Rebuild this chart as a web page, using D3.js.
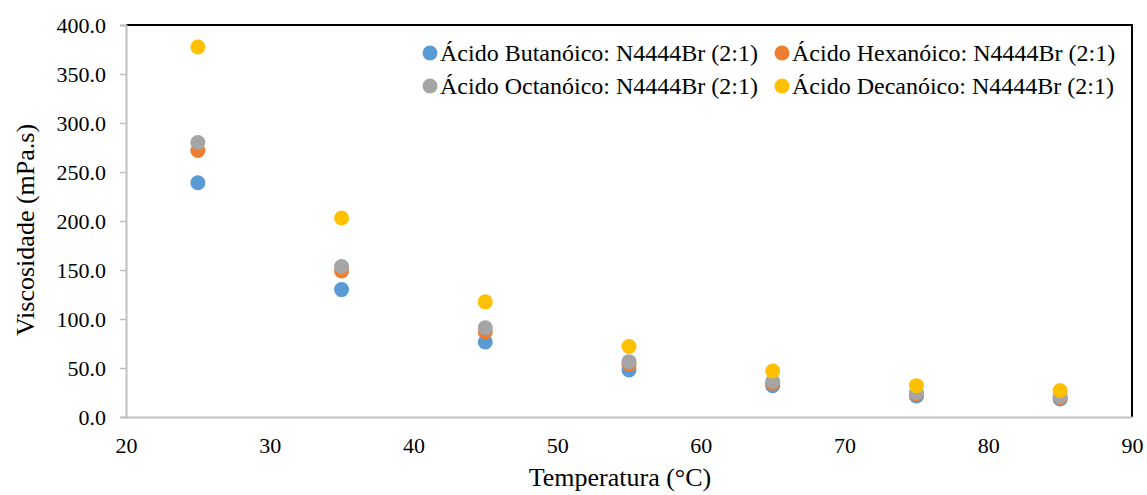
<!DOCTYPE html>
<html>
<head>
<meta charset="utf-8">
<script src="https://cdn.jsdelivr.net/npm/d3@7"></script>
<style>
  html, body { margin: 0; padding: 0; background: #fff; }
  svg { display: block; }
  text { font-family: "Liberation Serif", "Times New Roman", serif; fill: #000; }
</style>
</head>
<body>
<svg id="chart" width="1147" height="495"></svg>
<script>
// Temperatures (°C) and viscosities (mPa.s) for each deep eutectic solvent
const temperatures = [25, 35, 45, 55, 65, 75, 85];
const butanoico = [239, 130, 76.5, 48, 32, 21.4, 18.4];
const hexanoico = [272, 149, 87, 53.5, 34.5, 23.5, 19.7];
const octanoico = [280, 153.5, 91, 56.5, 36.5, 24.8, 21];
const decanoico = [377.5, 203, 117.5, 72, 47, 32, 27];

const seriesNames = [
  "Ácido Butanóico: N4444Br (2:1)",
  "Ácido Hexanóico: N4444Br (2:1)",
  "Ácido Octanóico: N4444Br (2:1)",
  "Ácido Decanóico: N4444Br (2:1)"
];
const seriesColors = ["#5B9BD5", "#ED7D31", "#A5A5A5", "#FFC000"];
const seriesValues = [butanoico, hexanoico, octanoico, decanoico];

const xTicks = [20, 30, 40, 50, 60, 70, 80, 90];
const yTicks = [0, 50, 100, 150, 200, 250, 300, 350, 400];

const svg = d3.select("#chart");
const plotLeft = 126, plotRight = 1132, plotTop = 25, plotBottom = 417;

const x = d3.scaleLinear().domain([20, 90]).range([plotLeft, plotRight]);
const y = d3.scaleLinear().domain([0, 400]).range([plotBottom, plotTop]);

// Frame: dark top/right edges
svg.append("line").attr("x1", plotLeft).attr("x2", plotRight + 1).attr("y1", plotTop).attr("y2", plotTop)
  .attr("stroke", "#000").attr("stroke-width", 2);
svg.append("line").attr("x1", plotRight).attr("x2", plotRight).attr("y1", plotTop).attr("y2", plotBottom)
  .attr("stroke", "#000").attr("stroke-width", 2);

// Y axis
const yAxis = d3.axisLeft(y).tickValues(yTicks).tickSize(6).tickPadding(14)
  .tickFormat(d3.format(".1f"));
const gy = svg.append("g").attr("transform", `translate(${plotLeft},0)`).call(yAxis);
gy.select(".domain").attr("stroke", "#BFBFBF").attr("stroke-width", 2);
gy.selectAll(".tick line").attr("stroke", "#BFBFBF").attr("stroke-width", 1.5);
gy.selectAll(".tick text").style("font-size", "22px").attr("dy", "0.32em")
  .style("font-family", "'Liberation Serif', serif");

// X axis
const xAxis = d3.axisBottom(x).tickValues(xTicks).tickSize(0).tickPadding(20)
  .tickFormat(d3.format("d"));
const gx = svg.append("g").attr("transform", `translate(0,${plotBottom})`).call(xAxis);
gx.select(".domain").attr("stroke", "#BFBFBF").attr("stroke-width", 2);
gx.selectAll(".tick text").style("font-size", "22px")
  .style("font-family", "'Liberation Serif', serif");

// Axis titles
svg.append("text").attr("x", 620).attr("y", 486)
  .attr("text-anchor", "middle").style("font-size", "26px").text("Temperatura (°C)");
svg.append("text").attr("transform", `translate(34,230) rotate(-90)`)
  .attr("text-anchor", "middle").style("font-size", "26px").text("Viscosidade (mPa.s)");

// Points
seriesValues.forEach((vals, i) => {
  svg.append("g").selectAll("circle")
    .data(temperatures.map((t, j) => [t, vals[j]]))
    .join("circle")
    .attr("cx", d => x(d[0]))
    .attr("cy", d => y(d[1]))
    .attr("r", 7.5)
    .attr("fill", seriesColors[i]);
});

// Legend (two columns, two rows)
const legendPos = [[430, 53], [782, 53], [430, 86], [782, 86]];
seriesNames.forEach((name, i) => {
  const [lx, ly] = legendPos[i];
  const g = svg.append("g").attr("transform", `translate(${lx},${ly})`);
  g.append("circle").attr("r", 7.5).attr("fill", seriesColors[i]);
  g.append("text").attr("x", 10).attr("dy", "0.35em").style("font-size", "24px").text(name);
});
</script>
</body>
</html>
